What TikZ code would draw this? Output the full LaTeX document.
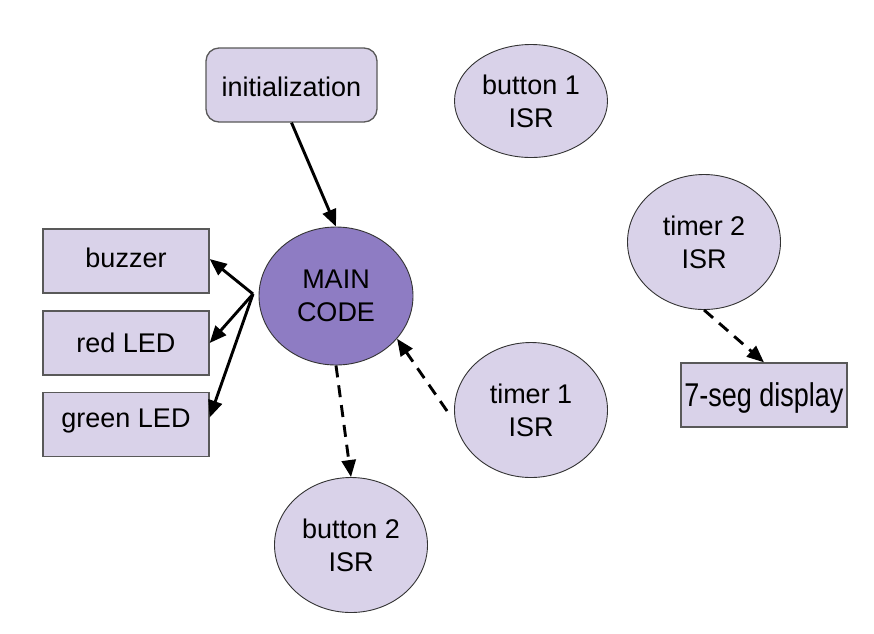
\documentclass[tikz,border=0pt]{standalone}
\usepackage{fontspec}
\setmainfont{Liberation Sans}
\usetikzlibrary{shapes.geometric,arrows.meta}
\definecolor{lav}{HTML}{D9D2E9}
\definecolor{mainpurple}{HTML}{8E7CC3}
\definecolor{boxborder}{HTML}{595959}
\begin{document}
\begin{tikzpicture}[x=1pt,y=-1pt,
  lbl/.style={font=\fontsize{27}{33}\selectfont, align=center, text=black, inner sep=0pt},
  boxnode/.style={lbl, draw=boxborder, line width=1.3pt, fill=lav, minimum width=166pt, minimum height=64pt, text depth=0pt},
  roundbox/.style={boxnode, rounded corners=13pt, minimum width=171pt, minimum height=74pt},
  isr/.style={lbl, ellipse, draw=black!80, line width=0.9pt, fill=lav, minimum width=153pt, minimum height=135pt},
  mainell/.style={lbl, ellipse, draw=black!80, line width=0.9pt, fill=mainpurple, minimum width=154pt, minimum height=138pt},
  conn/.style={line width=2.9pt, -{Triangle[length=17pt,width=14pt]}},
  dconn/.style={conn, dash pattern=on 12pt off 8pt}
]
\useasboundingbox (0,0) rectangle (874,633);
\fill[white] (0,0) rectangle (874,633);

\node[roundbox, text height=23pt] (init) at (291.5,85) {initialization};
\node[isr, minimum height=113pt] (b1) at (531,101) {button 1\\ISR};
\node[isr] (t2) at (704,242) {timer 2\\ISR};
\node[mainell] (main) at (336,296) {MAIN\\CODE};
\node[boxnode, text height=12pt] (buzzer) at (126,261) {buzzer};
\node[boxnode, text height=18pt] (red) at (126,343) {red LED};
\node[boxnode, text height=5pt] (green) at (126,424.5) {green LED};
\node[isr] (t1) at (531,410) {timer 1\\ISR};
\node[isr] (b2) at (351,545) {button 2\\ISR};
\node[boxnode, text height=22pt] (seg) at (764,395) {\scalebox{1}[1.22]{7-seg display}};

\coordinate (fan) at (253,294);

\draw[conn] (init.south) -- (main.north);
\draw[conn] (fan) -- ([yshift=2pt]buzzer.east);
\draw[conn] (fan) -- (red.east);
\draw[conn] (fan) -- ([yshift=7pt]green.east);
\draw[dconn] (main.south) -- (b2.north);
\draw[dconn] ([xshift=-7pt,yshift=-1pt]t1.west) -- (main.-35);
\draw[dconn] (t2.south) -- (seg.north);
\end{tikzpicture}
\end{document}
